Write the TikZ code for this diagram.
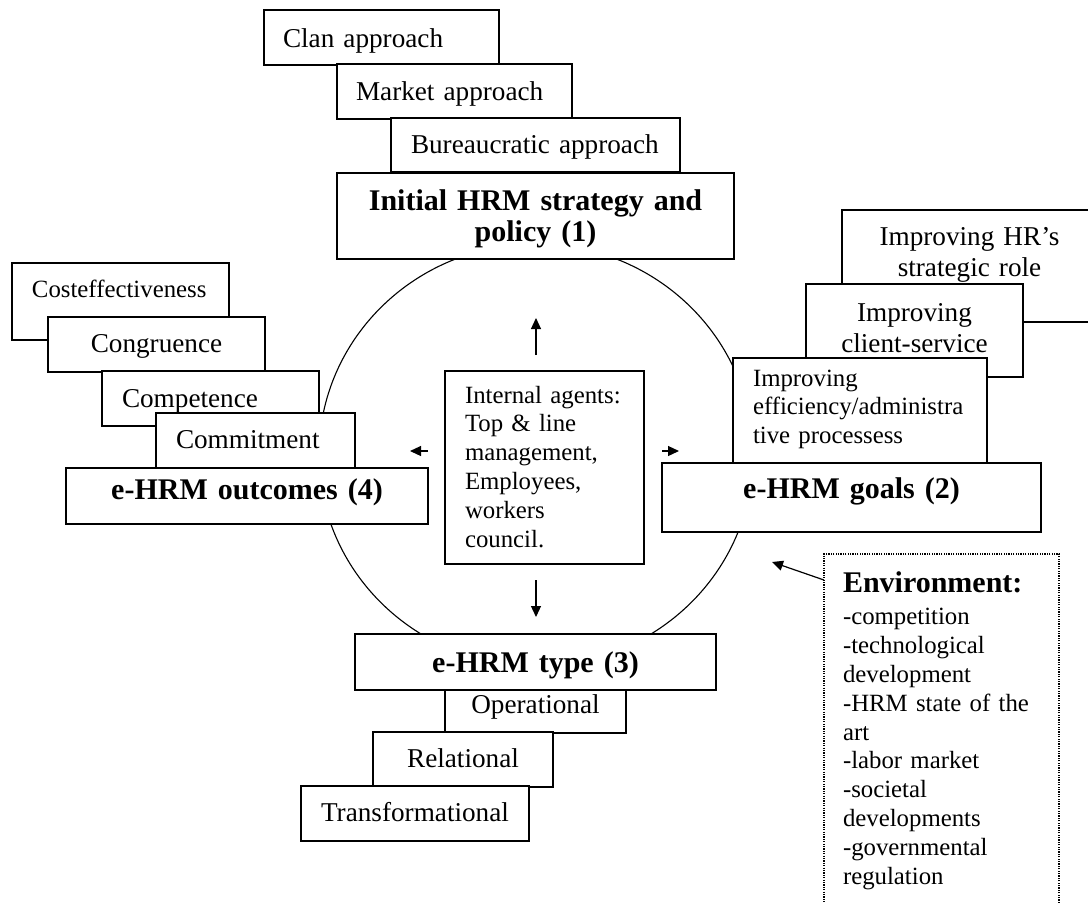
\documentclass[tikz,border=0pt]{standalone}
\usepackage{fontspec}
\setmainfont{Liberation Serif}
\usetikzlibrary{arrows.meta}

\tikzset{
    card/.style={draw, fill=white, line width=0.7pt, anchor=north west, outer sep=0pt, inner ysep=0pt, inner xsep=10pt},
    normaltext/.style={font=\fontsize{13.6}{15.6}\selectfont},
    smalltext/.style={font=\fontsize{12.4}{14.4}\selectfont},
    boldtext/.style={font=\fontsize{15}{15.5}\selectfont\bfseries},
    arr/.style={-{Triangle[length=5.5pt,width=5pt]}, line width=0.6pt},
}

\begin{document}
\begin{tikzpicture}[x=0.5pt, y=-0.5pt]
        % frame
            \useasboundingbox (0,0) rectangle (1088,902);
            \fill[white] (0,0) rectangle (1088,902);
            \clip (0,0) rectangle (1088,902);
        % cycle
            \draw[line width=0.55pt] (536,455) ellipse [x radius=217, y radius=211];
        % strategy (1)
            \node[card, normaltext, inner xsep=9.5pt, text width=98.5pt, align=left, text height=18.5pt, text depth=9pt] (clan) at (264,10) {Clan approach};
            \node[card, normaltext, inner xsep=9.5pt, text width=98.5pt, align=left, text height=18pt, text depth=9.5pt] (market) at (337,64) {Market approach};
            \node[card, normaltext, text width=124.5pt, align=left, text height=17.5pt, text depth=9.5pt] (bureau) at (391,118) {Bureaucratic approach};
            \node[card, boldtext, text width=178.5pt, align=center, text height=18.5pt, text depth=24.5pt] (initial) at (337,173) {Initial HRM strategy and\\policy (1)};
        % outcomes (4)
            \node[card, smalltext, text width=88.5pt, align=left, text height=17pt, text depth=21.5pt] (costeff) at (12,263) {Costeffectiveness};
            \node[card, normaltext, text width=88.5pt, align=center, text height=17.5pt, text depth=10pt] (congr) at (48,317) {Congruence};
            \node[card, normaltext, text width=88.5pt, align=left, text height=18pt, text depth=9.5pt] (compet) at (102,371) {Competence};
            \node[card, normaltext, text width=79.5pt, align=left, text height=17.5pt, text depth=10pt] (commit) at (156,413) {Commitment};
            \node[card, boldtext, text width=161pt, align=center, text height=15.5pt, text depth=12.5pt] (outcomes) at (66,468) {e-HRM outcomes (4)};
        % goals (2)
            \node[card, normaltext, text width=107.5pt, align=center, text height=17.5pt, text depth=38.5pt] (hrrole) at (842,210) {Improving HR’s\\strategic role};
            \node[card, normaltext, text width=88.5pt, align=center, text height=18.5pt, text depth=28pt] (client) at (806,284) {Improving\\client-service};
            \node[card, smalltext, text width=107pt, align=left, text height=14pt, text depth=38.5pt] (effic) at (733,358) {Improving\\efficiency/administra\\tive processess};
            \node[card, boldtext, text width=169.5pt, align=center, text height=17.5pt, text depth=17pt] (goals) at (662,463) {e-HRM goals (2)};
        % agents
            \node[card, smalltext, text width=79.5pt, align=left, text height=16pt, text depth=80.5pt] (agents) at (445,371) {Internal agents:\\Top \& line\\management,\\Employees,\\workers\\council.};
        % type (3)
            \node[card, boldtext, text width=160.5pt, align=center, text height=19pt, text depth=9pt] (type) at (355,634) {e-HRM type (3)};
            \node[card, normaltext, text width=70.5pt, align=center, text height=11.5pt, text depth=10pt] (oper) at (445,690) {Operational};
            \node[card, normaltext, text width=70pt, align=center, text height=17.5pt, text depth=10pt] (relat) at (373,732) {Relational};
            \node[card, normaltext, inner xsep=9pt, text width=96pt, align=center, text height=17.5pt, text depth=10pt] (trans) at (301,786) {Transformational};
        % environment
            \node[card, smalltext, line width=0.6pt, dash pattern=on 0.6pt off 0.6pt, inner xsep=9.5pt, text width=98.5pt, align=left, text height=19pt, text depth=164pt] (env) at (824,554) {{\fontsize{15}{15.5}\selectfont\bfseries Environment:}\\[2pt]-competition\\-technological\\development\\-HRM state of the\\art\\-labor market\\-societal\\developments\\-governmental\\regulation};
            \coordinate (envtip) at (772,562);
        % arrows
            \draw[arr] ([xshift=-4.25pt,yshift=8pt]agents.north) -- ([xshift=-4.25pt,yshift=26.5pt]agents.north);
            \draw[arr] ([xshift=-4.25pt,yshift=-8pt]agents.south) -- ([xshift=-4.25pt,yshift=-26.5pt]agents.south);
            \draw[arr] ([xshift=-8.5pt,yshift=8.25pt]agents.west) -- ([xshift=-17.5pt,yshift=8.25pt]agents.west);
            \draw[arr] ([xshift=9pt,yshift=8.25pt]agents.east) -- ([xshift=17.5pt,yshift=8.25pt]agents.east);
            \draw[arr] ([yshift=-13pt]env.north west) -- (envtip);
\end{tikzpicture}
\end{document}
